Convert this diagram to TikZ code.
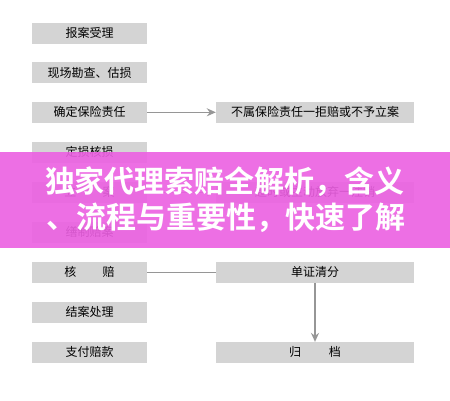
\documentclass[tikz,border=0pt]{standalone}
\usepackage{fontspec}
\newfontfamily\cjk{Noto Sans CJK SC}
\newfontfamily\cjkbold{Noto Sans CJK SC Bold}
\usetikzlibrary{arrows.meta}
\definecolor{boxgray}{RGB}{212,212,212}
\definecolor{linegray}{RGB}{150,150,150}
\definecolor{banner}{RGB}{236,96,226}
\tikzset{
  flowbox/.style={fill=boxgray, draw=none, minimum height=20.5pt, inner sep=0pt, font=\cjk\fontsize{12}{12}\selectfont, text=black},
  leftbox/.style={flowbox, minimum width=115pt},
  rightbox/.style={flowbox, minimum width=198pt},
  conn/.style={draw=linegray, line width=1.3pt},
  arr/.style={conn, -{Stealth[length=9pt,width=8pt,inset=3pt]}}
}
\begin{document}
\begin{tikzpicture}[x=1pt,y=-1pt]
\useasboundingbox (0,0) rectangle (450,400);
\fill[white] (0,0) rectangle (450,400);
\node[leftbox] (b1) at (89.5,33.3) {报案受理};
\node[leftbox] (b2) at (89.5,72.5) {现场勘查、估损};
\node[leftbox] (b3) at (89.5,112.3) {确定保险责任};
\node[leftbox] (b4) at (89.5,152.3) {定损核损};
\node[leftbox] (b5) at (89.5,192.3) {立\hspace{2.2em}案};
\node[leftbox] (b6) at (89.5,232.3) {缮制赔案};
\node[leftbox] (b7) at (89.5,272.3) {核\hspace{2.2em}赔};
\node[leftbox] (b8) at (89.5,312.3) {结案处理};
\node[leftbox] (b9) at (89.5,352.3) {支付赔款};
\node[rightbox] (r1) at (315,112.3) {不属保险责任一拒赔或不予立案};
\node[rightbox] (r2) at (315,192.3) {超时或主动放弃一注销};
\node[rightbox] (r3) at (315,272.3) {单证清分};
\node[rightbox] (r4) at (315,352.3) {归\hspace{2.3em}档};
\draw[arr] (b3.east) -- (r1.west);
\draw[arr] (b5.east) -- (r2.west);
\draw[conn] (b7.east) -- (r3.west);
\draw[arr] (r3.south) -- (r4.north);
\fill[banner, opacity=0.9] (0,152) rectangle (450,248);
\node[font=\cjkbold\fontsize{30}{30}\selectfont, text=white, inner sep=0pt] (t1) at (225,182) {独家代理索赔全解析，含义};
\node[font=\cjkbold\fontsize{30}{30}\selectfont, text=white, inner sep=0pt] (t2) at (226,218) {、流程与重要性，快速了解};
\end{tikzpicture}
\end{document}
